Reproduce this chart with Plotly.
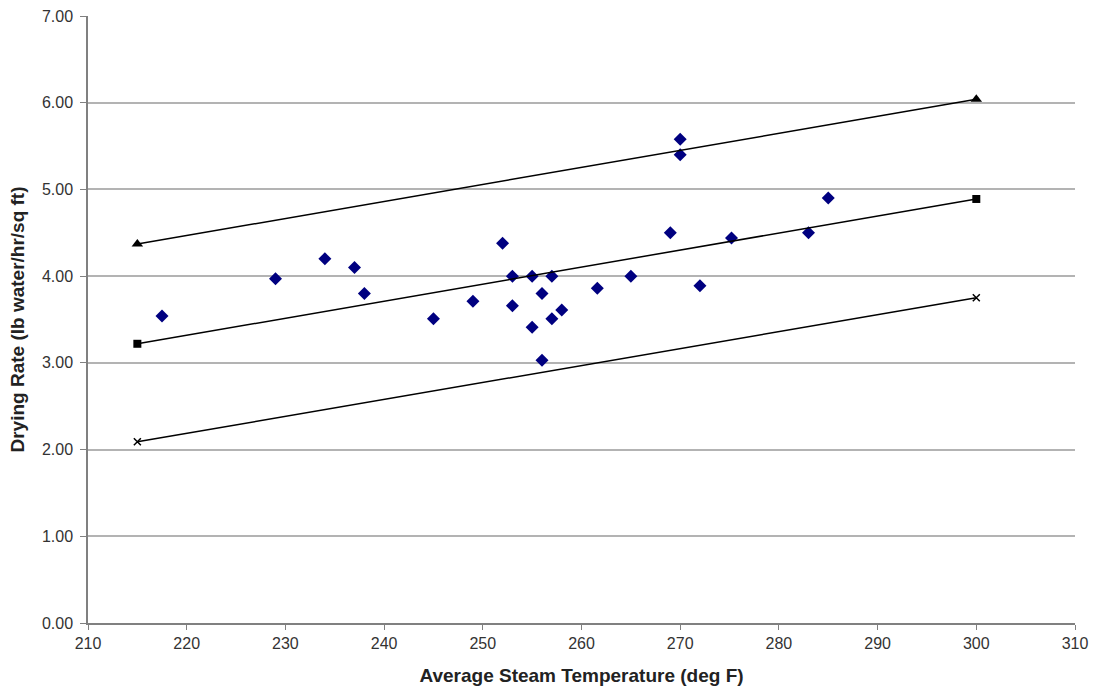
import plotly.graph_objects as go

# Measured drying rates vs. average steam temperature
temps = [217.5, 229, 234, 237, 238, 245, 249, 252, 253, 253, 255, 255, 256, 256,
         257, 257, 258, 261.6, 265, 269, 270, 270, 272, 275.2, 283, 285]
rates = [3.54, 3.97, 4.20, 4.10, 3.80, 3.51, 3.71, 4.38, 4.00, 3.66, 4.00, 3.41,
         3.80, 3.03, 4.00, 3.51, 3.61, 3.86, 4.00, 4.50, 5.58, 5.40, 3.89, 4.44,
         4.50, 4.90]

# Fit line and upper/lower bounds at the end temperatures
line_temps = [215, 300]
fit_rates = [3.22, 4.89]
upper_rates = [4.37, 6.04]
lower_rates = [2.09, 3.75]

x_ticks = [210, 220, 230, 240, 250, 260, 270, 280, 290, 300, 310]
y_ticks = [0, 1, 2, 3, 4, 5, 6, 7]

fig = go.Figure()

fig.add_trace(go.Scatter(
    x=temps, y=rates, mode="markers",
    marker=dict(symbol="diamond", size=10, color="#000080"),
    showlegend=False,
))
fig.add_trace(go.Scatter(
    x=line_temps, y=upper_rates, mode="lines+markers",
    line=dict(color="black", width=1.5),
    marker=dict(symbol="triangle-up", size=10, color="black"),
    showlegend=False,
))
fig.add_trace(go.Scatter(
    x=line_temps, y=fit_rates, mode="lines+markers",
    line=dict(color="black", width=1.5),
    marker=dict(symbol="square", size=8, color="black"),
    showlegend=False,
))
fig.add_trace(go.Scatter(
    x=line_temps, y=lower_rates, mode="lines+markers",
    line=dict(color="black", width=1.5),
    marker=dict(symbol="x-thin", size=7, color="black",
                line=dict(color="black", width=1.5)),
    showlegend=False,
))

font_family = "Liberation Sans, Arial, sans-serif"

fig.update_layout(
    width=1093, height=693,
    margin=dict(l=88, r=18, t=16, b=70),
    paper_bgcolor="white", plot_bgcolor="white",
    font=dict(family=font_family, size=16, color="#333333"),
    xaxis=dict(
        range=[210, 310], tickvals=x_ticks, ticktext=[str(v) for v in x_ticks],
        automargin=False,
        showgrid=False, zeroline=False,
        showline=True, linecolor="#808080", linewidth=1.5,
        ticks="outside", ticklen=5, tickcolor="#808080",
        tickfont=dict(size=16, color="#333333"),
        title=dict(text="<b>Average Steam Temperature (deg F)</b>",
                   font=dict(size=19, color="#222222"), standoff=18),
    ),
    yaxis=dict(
        range=[0, 7], tickvals=y_ticks, ticktext=[f"{v:.2f}" for v in y_ticks],
        automargin=False,
        showgrid=True, gridcolor="#b3b3b3", gridwidth=1.5, zeroline=False,
        showline=True, linecolor="#808080", linewidth=1.5,
        ticks="outside", ticklen=6, tickcolor="#808080",
        ticklabelstandoff=4,
        tickfont=dict(size=16, color="#333333"),
        title=dict(text="<b>Drying Rate (lb water/hr/sq ft)</b>",
                   font=dict(size=19, color="#222222"), standoff=12),
    ),
)

fig.write_html("out.html")
